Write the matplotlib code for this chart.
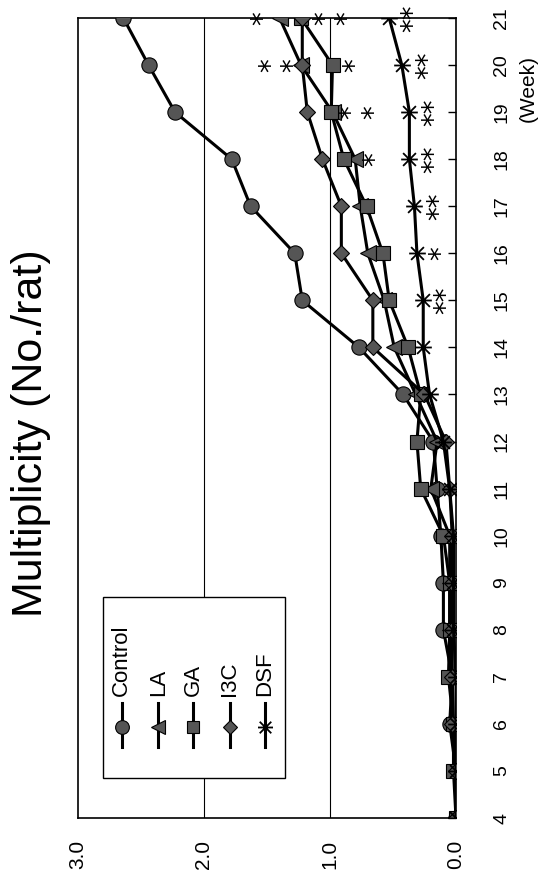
import numpy as np
import matplotlib
matplotlib.use('Agg')
import matplotlib.pyplot as plt
from matplotlib.path import Path

plt.rcParams['font.family'] = ['Liberation Sans Narrow', 'Liberation Sans', 'DejaVu Sans']

weeks = list(range(4, 22))
control = [0, 0, 0.05, 0.03, 0.10, 0.10, 0.12, 0.15, 0.18, 0.42, 0.77, 1.22, 1.28, 1.63, 1.78, 2.23, 2.44, 2.64]
la = [0, 0, 0.02, 0.03, 0.05, 0.05, 0.05, 0.20, 0.15, 0.32, 0.49, 0.57, 0.70, 0.76, 0.80, 0.98, 1.23, 1.40]
ga = [0, 0.02, 0.02, 0.06, 0.05, 0.05, 0.10, 0.28, 0.31, 0.28, 0.38, 0.53, 0.58, 0.71, 0.89, 0.99, 0.98, 1.23]
i3c = [0, 0, 0.03, 0.03, 0.03, 0.03, 0.03, 0.05, 0.08, 0.25, 0.66, 0.66, 0.91, 0.91, 1.06, 1.18, 1.22, 1.22]
dsf = [0, 0, 0, 0, 0.02, 0.02, 0.02, 0.05, 0.10, 0.21, 0.26, 0.26, 0.31, 0.33, 0.37, 0.37, 0.43, 0.53]

series_names = ['Control', 'LA', 'GA', 'I3C', 'DSF']
value_ticks = [0.0, 1.0, 2.0, 3.0]

# significance marks (week, value, text); '*\n*' = two stars stacked above a point
sig_weeks = [21, 21, 21, 20, 20, 20, 19, 19, 18, 18, 17, 16, 15]
sig_values = [1.58, 1.0, 0.39, 1.43, 0.85, 0.27, 0.79, 0.22, 0.69, 0.22, 0.18, 0.17, 0.13]
sig_texts = ['*', '*\n*', '**', '*\n*', '*', '**', '*\n*', '**', '*', '**', '**', '*', '**']

# asterisk-like star marker (x with a bar), as drawn rotated
star = Path([(-1, -1), (1, 1), (-1, 1), (1, -1), (-1.3, 0), (1.3, 0)],
            [Path.MOVETO, Path.LINETO, Path.MOVETO, Path.LINETO, Path.MOVETO, Path.LINETO])

styles = {
    'Control': dict(marker='o', ms=11),
    'LA': dict(marker='<', ms=11),
    'GA': dict(marker='s', ms=9.5),
    'I3C': dict(marker='D', ms=8),
    'DSF': dict(marker=star, ms=12, mew=1.3),
}
fill = '#555555'

fig = plt.figure(figsize=(5.4, 8.8), dpi=100)
ax = fig.add_axes([78/540, 62/880, 378/540, 800/880])

data = dict(zip(series_names, [control, la, ga, i3c, dsf]))
for name in series_names:
    st = styles[name]
    ax.plot(data[name], weeks, color='black', lw=2.2, marker=st['marker'], ms=st['ms'],
            mfc=fill, mec='black', mew=st.get('mew', 0.8), zorder=3)

for w, v, t in zip(sig_weeks, sig_values, sig_texts):
    # the asterisk glyph sits high in its box, nudge it back to the point
    ax.annotate(t, (v, w), xytext=(4.5, 0), textcoords='offset points', rotation=90,
                ha='center', va='center', fontsize=20, linespacing=0.75,
                family='DejaVu Sans', zorder=4)

ax.set_xlim(3, 0)
ax.set_ylim(4, 21)
for v in [1.0, 2.0]:
    ax.axvline(v, color='black', lw=0.8, zorder=1)

ax.set_xticks(value_ticks)
ax.set_xticklabels([f'{v:.1f}' for v in value_ticks], rotation=90, fontsize=15)
ax.tick_params(axis='x', length=0, pad=16)

ax.yaxis.tick_right()
ax.set_yticks(weeks)
ax.set_yticklabels([str(w) for w in weeks], rotation=90, va='center', fontsize=14)
ax.tick_params(axis='y', direction='in', length=6, width=1, pad=27)

for sp in ax.spines.values():
    sp.set_linewidth(1.2)

# legend box drawn by hand (rotated entries)
tr = ax.transAxes
ax.add_patch(plt.Rectangle((0.066, 0.05), 0.482, 0.226, transform=tr, fill=True,
                           facecolor='white', edgecolor='black', lw=1, zorder=5))
col_x = [0.116, 0.212, 0.304, 0.402, 0.495]
for cx, name in zip(col_x, series_names):
    st = styles[name]
    ax.plot([cx, cx], [0.089, 0.144], transform=tr, color='black', lw=2.2, zorder=6)
    ax.plot([cx], [0.114], transform=tr, color='black', marker=st['marker'], ms=st['ms'] * 0.9,
            mfc=fill, mec='black', mew=st.get('mew', 0.8), zorder=7)
    ax.text(cx, 0.152, name, transform=tr, rotation=90, ha='center', va='bottom',
            fontsize=16, zorder=7)

fig.text(528/540, 1 - 88/880, '(Week)', rotation=90, ha='center', va='center', fontsize=15)
fig.text(31/540, 1 - 433/880, 'Multiplicity (No./rat)', rotation=90, ha='center', va='center',
         fontsize=31)

fig.savefig('out.png', dpi=100)
